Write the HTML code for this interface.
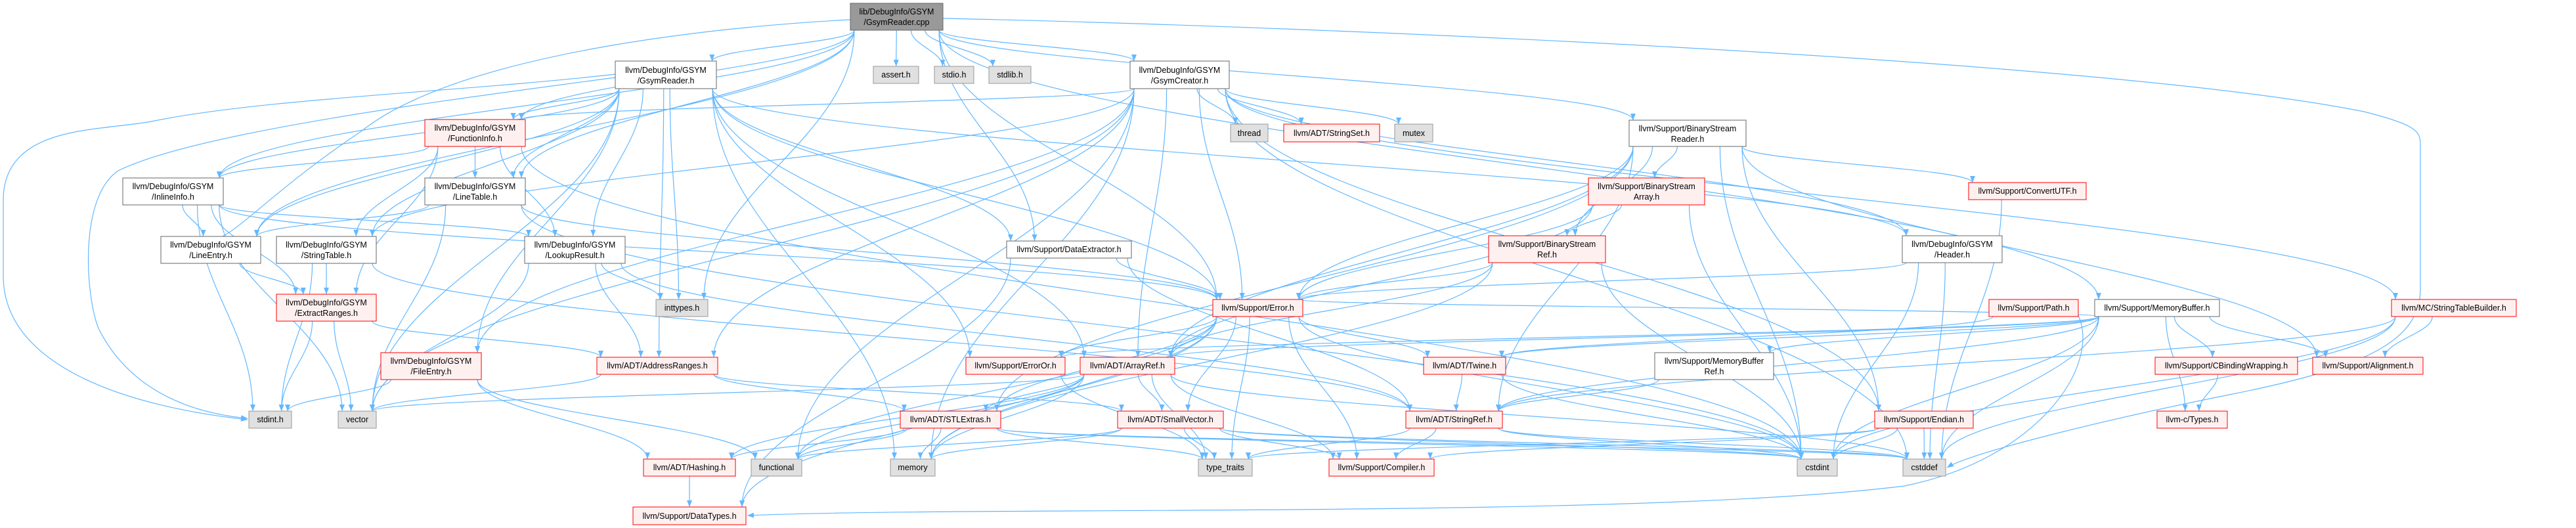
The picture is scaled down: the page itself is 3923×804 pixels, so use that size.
<!DOCTYPE html>
<html><head><meta charset="utf-8"><style>
html,body{margin:0;padding:0;background:#fff;}
svg{display:block;}
text{font-family:"Liberation Sans",sans-serif;font-size:12.5px;fill:#000;}
</style></head><body>
<svg id="g" width="3923" height="804" viewBox="0 0 3923 804" xmlns="http://www.w3.org/2000/svg">
<defs><marker id="a" viewBox="0 0 10 10" refX="10" refY="5" markerWidth="10" markerHeight="10" markerUnits="userSpaceOnUse" orient="auto"><path d="M0,1 L10,5 L0,9 z" fill="#63b8ff"/></marker></defs>
<g fill="none" stroke="#63b8ff" stroke-width="1.2">
<path d="M937,113 C700,140 400,150 230,185 C150,200 10,190 5,300 L5,420 C5,560 200,620 377,639" marker-end="url(#a)"/>
<path d="M937,118 C700,150 300,200 180,260 C120,300 130,450 150,500 C200,600 300,630 377,637" marker-end="url(#a)"/>
<path d="M1295,30 C1100,40 700,80 550,200 C400,300 340,380 320,360" />
<path d="M1436,28 C2000,40 3200,90 3600,170 C3680,190 3686,200 3686,220 L3686,440 C3686,520 3600,560 3400,600 C3200,640 3000,690 2965,712" marker-end="url(#a)"/>
<path d="M3165,480 C3200,560 3100,700 2900,740 C2500,790 1500,770 1138,785" marker-end="url(#a)"/>
</g>
<g id="edges" fill="none" stroke="#63b8ff" stroke-width="1.2"></g>
<g id="nodes">
<rect x="1295" y="5" width="141" height="41" fill="#999" stroke="#666"/><text x="1365.5" y="22" text-anchor="middle">lib/DebugInfo/GSYM</text><text x="1365.5" y="38" text-anchor="middle">/GsymReader.cpp</text>
<rect x="937" y="93" width="154" height="42" fill="#fff" stroke="#666"/><text x="1014" y="111" text-anchor="middle">llvm/DebugInfo/GSYM</text><text x="1014" y="127" text-anchor="middle">/GsymReader.h</text>
<rect x="1330" y="101" width="69" height="26" fill="#e0e0e0" stroke="#999"/><text x="1364.5" y="118" text-anchor="middle">assert.h</text>
<rect x="1423" y="101" width="60" height="26" fill="#e0e0e0" stroke="#999"/><text x="1453" y="118" text-anchor="middle">stdio.h</text>
<rect x="1506" y="101" width="64" height="26" fill="#e0e0e0" stroke="#999"/><text x="1538" y="118" text-anchor="middle">stdlib.h</text>
<rect x="1721" y="93" width="151" height="42" fill="#fff" stroke="#666"/><text x="1796.5" y="111" text-anchor="middle">llvm/DebugInfo/GSYM</text><text x="1796.5" y="127" text-anchor="middle">/GsymCreator.h</text>
<rect x="647" y="182" width="153" height="41" fill="#fff0f0" stroke="#f00"/><text x="723.5" y="199" text-anchor="middle">llvm/DebugInfo/GSYM</text><text x="723.5" y="215" text-anchor="middle">/FunctionInfo.h</text>
<rect x="1874" y="189" width="57" height="27" fill="#e0e0e0" stroke="#999"/><text x="1902.5" y="207" text-anchor="middle">thread</text>
<rect x="1955" y="189" width="146" height="27" fill="#fff0f0" stroke="#f00"/><text x="2028" y="207" text-anchor="middle">llvm/ADT/StringSet.h</text>
<rect x="2124" y="189" width="58" height="27" fill="#e0e0e0" stroke="#999"/><text x="2153" y="207" text-anchor="middle">mutex</text>
<rect x="2481" y="183" width="178" height="40" fill="#fff" stroke="#666"/><text x="2570" y="200" text-anchor="middle">llvm/Support/BinaryStream</text><text x="2570" y="216" text-anchor="middle">Reader.h</text>
<rect x="187" y="271" width="153" height="41" fill="#fff" stroke="#666"/><text x="263.5" y="288" text-anchor="middle">llvm/DebugInfo/GSYM</text><text x="263.5" y="304" text-anchor="middle">/InlineInfo.h</text>
<rect x="647" y="271" width="153" height="41" fill="#fff" stroke="#666"/><text x="723.5" y="288" text-anchor="middle">llvm/DebugInfo/GSYM</text><text x="723.5" y="304" text-anchor="middle">/LineTable.h</text>
<rect x="2419" y="271" width="177" height="41" fill="#fff0f0" stroke="#f00"/><text x="2507.5" y="288" text-anchor="middle">llvm/Support/BinaryStream</text><text x="2507.5" y="304" text-anchor="middle">Array.h</text>
<rect x="2998" y="278" width="179" height="26" fill="#fff0f0" stroke="#f00"/><text x="3087.5" y="295" text-anchor="middle">llvm/Support/ConvertUTF.h</text>
<rect x="245" y="360" width="152" height="41" fill="#fff" stroke="#666"/><text x="321" y="377" text-anchor="middle">llvm/DebugInfo/GSYM</text><text x="321" y="393" text-anchor="middle">/LineEntry.h</text>
<rect x="421" y="360" width="152" height="41" fill="#fff" stroke="#666"/><text x="497" y="377" text-anchor="middle">llvm/DebugInfo/GSYM</text><text x="497" y="393" text-anchor="middle">/StringTable.h</text>
<rect x="799" y="360" width="153" height="41" fill="#fff" stroke="#666"/><text x="875.5" y="377" text-anchor="middle">llvm/DebugInfo/GSYM</text><text x="875.5" y="393" text-anchor="middle">/LookupResult.h</text>
<rect x="1533" y="367" width="190" height="26" fill="#fff" stroke="#666"/><text x="1628" y="384" text-anchor="middle">llvm/Support/DataExtractor.h</text>
<rect x="2267" y="359" width="178" height="41" fill="#fff0f0" stroke="#f00"/><text x="2356" y="376" text-anchor="middle">llvm/Support/BinaryStream</text><text x="2356" y="392" text-anchor="middle">Ref.h</text>
<rect x="2897" y="359" width="152" height="41" fill="#fff" stroke="#666"/><text x="2973" y="376" text-anchor="middle">llvm/DebugInfo/GSYM</text><text x="2973" y="392" text-anchor="middle">/Header.h</text>
<rect x="421" y="448" width="152" height="41" fill="#fff0f0" stroke="#f00"/><text x="497" y="465" text-anchor="middle">llvm/DebugInfo/GSYM</text><text x="497" y="481" text-anchor="middle">/ExtractRanges.h</text>
<rect x="999" y="456" width="79" height="26" fill="#e0e0e0" stroke="#999"/><text x="1038.5" y="473" text-anchor="middle">inttypes.h</text>
<rect x="1847" y="456" width="137" height="26" fill="#fff0f0" stroke="#f00"/><text x="1915.5" y="473" text-anchor="middle">llvm/Support/Error.h</text>
<rect x="3029" y="456" width="136" height="26" fill="#fff0f0" stroke="#f00"/><text x="3097" y="473" text-anchor="middle">llvm/Support/Path.h</text>
<rect x="3190" y="456" width="190" height="26" fill="#fff" stroke="#666"/><text x="3285" y="473" text-anchor="middle">llvm/Support/MemoryBuffer.h</text>
<rect x="3642" y="456" width="190" height="26" fill="#fff0f0" stroke="#f00"/><text x="3737" y="473" text-anchor="middle">llvm/MC/StringTableBuilder.h</text>
<rect x="580" y="537" width="153" height="41" fill="#fff0f0" stroke="#f00"/><text x="656.5" y="554" text-anchor="middle">llvm/DebugInfo/GSYM</text><text x="656.5" y="570" text-anchor="middle">/FileEntry.h</text>
<rect x="909" y="544" width="184" height="26" fill="#fff0f0" stroke="#f00"/><text x="1001" y="561" text-anchor="middle">llvm/ADT/AddressRanges.h</text>
<rect x="1471" y="544" width="151" height="26" fill="#fff0f0" stroke="#f00"/><text x="1546.5" y="561" text-anchor="middle">llvm/Support/ErrorOr.h</text>
<rect x="1645" y="544" width="144" height="26" fill="#fff0f0" stroke="#f00"/><text x="1717" y="561" text-anchor="middle">llvm/ADT/ArrayRef.h</text>
<rect x="2168" y="544" width="125" height="26" fill="#fff0f0" stroke="#f00"/><text x="2230.5" y="561" text-anchor="middle">llvm/ADT/Twine.h</text>
<rect x="2520" y="537" width="181" height="41" fill="#fff" stroke="#666"/><text x="2610.5" y="554" text-anchor="middle">llvm/Support/MemoryBuffer</text><text x="2610.5" y="570" text-anchor="middle">Ref.h</text>
<rect x="3282" y="544" width="217" height="26" fill="#fff0f0" stroke="#f00"/><text x="3390.5" y="561" text-anchor="middle">llvm/Support/CBindingWrapping.h</text>
<rect x="3522" y="544" width="168" height="26" fill="#fff0f0" stroke="#f00"/><text x="3606" y="561" text-anchor="middle">llvm/Support/Alignment.h</text>
<rect x="379" y="626" width="65" height="26" fill="#e0e0e0" stroke="#999"/><text x="411.5" y="643" text-anchor="middle">stdint.h</text>
<rect x="515" y="626" width="58" height="26" fill="#e0e0e0" stroke="#999"/><text x="544" y="643" text-anchor="middle">vector</text>
<rect x="1371" y="626" width="153" height="26" fill="#fff0f0" stroke="#f00"/><text x="1447.5" y="643" text-anchor="middle">llvm/ADT/STLExtras.h</text>
<rect x="1702" y="626" width="161" height="26" fill="#fff0f0" stroke="#f00"/><text x="1782.5" y="643" text-anchor="middle">llvm/ADT/SmallVector.h</text>
<rect x="2141" y="626" width="147" height="26" fill="#fff0f0" stroke="#f00"/><text x="2214.5" y="643" text-anchor="middle">llvm/ADT/StringRef.h</text>
<rect x="2855" y="626" width="150" height="26" fill="#fff0f0" stroke="#f00"/><text x="2930" y="643" text-anchor="middle">llvm/Support/Endian.h</text>
<rect x="3285" y="626" width="107" height="26" fill="#fff0f0" stroke="#f00"/><text x="3338.5" y="643" text-anchor="middle">llvm-c/Types.h</text>
<rect x="980" y="699" width="140" height="26" fill="#fff0f0" stroke="#f00"/><text x="1050" y="716" text-anchor="middle">llvm/ADT/Hashing.h</text>
<rect x="1144" y="699" width="77" height="26" fill="#e0e0e0" stroke="#999"/><text x="1182.5" y="716" text-anchor="middle">functional</text>
<rect x="1356" y="699" width="68" height="26" fill="#e0e0e0" stroke="#999"/><text x="1390" y="716" text-anchor="middle">memory</text>
<rect x="1825" y="699" width="82" height="26" fill="#e0e0e0" stroke="#999"/><text x="1866" y="716" text-anchor="middle">type_traits</text>
<rect x="2024" y="699" width="160" height="26" fill="#fff0f0" stroke="#f00"/><text x="2104" y="716" text-anchor="middle">llvm/Support/Compiler.h</text>
<rect x="2737" y="699" width="61" height="26" fill="#e0e0e0" stroke="#999"/><text x="2767.5" y="716" text-anchor="middle">cstdint</text>
<rect x="2898" y="699" width="65" height="26" fill="#e0e0e0" stroke="#999"/><text x="2930.5" y="716" text-anchor="middle">cstddef</text>
<rect x="964" y="772" width="172" height="27" fill="#fff0f0" stroke="#f00"/><text x="1050" y="790" text-anchor="middle">llvm/Support/DataTypes.h</text>
</g>
</svg>
<script>
var N={root:[1295,5,1436,46],greader:[937,93,1091,135],assert:[1330,101,1399,127],stdio:[1423,101,1483,127],stdlib:[1506,101,1570,127],gcreator:[1721,93,1872,135],funcinfo:[647,182,800,223],thread:[1874,189,1931,216],stringset:[1955,189,2101,216],mutex:[2124,189,2182,216],bsreader:[2481,183,2659,223],inline:[187,271,340,312],linetable:[647,271,800,312],bsarray:[2419,271,2596,312],convutf:[2998,278,3177,304],lineentry:[245,360,397,401],strtable:[421,360,573,401],lookup:[799,360,952,401],dataext:[1533,367,1723,393],bsref:[2267,359,2445,400],header:[2897,359,3049,400],extract:[421,448,573,489],inttypes:[999,456,1078,482],error:[1847,456,1984,482],path:[3029,456,3165,482],membuf:[3190,456,3380,482],stb:[3642,456,3832,482],fileentry:[580,537,733,578],addr:[909,544,1093,570],erroror:[1471,544,1622,570],arrayref:[1645,544,1789,570],twine:[2168,544,2293,570],mbref:[2520,537,2701,578],cbind:[3282,544,3499,570],align:[3522,544,3690,570],stdint:[379,626,444,652],vector:[515,626,573,652],stl:[1371,626,1524,652],smallvec:[1702,626,1863,652],stringref:[2141,626,2288,652],endian:[2855,626,3005,652],ctypes:[3285,626,3392,652],hashing:[980,699,1120,725],functional:[1144,699,1221,725],memory:[1356,699,1424,725],typetraits:[1825,699,1907,725],compiler:[2024,699,2184,725],cstdint:[2737,699,2798,725],cstddef:[2898,699,2963,725],datatypes:[964,772,1136,799]};
var E={root:"greader assert stdio stdlib gcreator inline linetable dataext inttypes bsreader membuf lineentry funcinfo error",
greader:"funcinfo strtable lineentry vector inttypes fileentry erroror arrayref header dataext error memory addr lookup linetable inline",
gcreator:"funcinfo thread stringset mutex header fileentry error arrayref endian stb memory functional vector addr cstddef strtable",
funcinfo:"inline linetable lookup extract strtable cstdint",
inline:"lineentry extract lookup stdint vector error",
linetable:"lineentry error vector cstdint",
lineentry:"extract",strtable:"extract stringref stdint",
extract:"addr stdint vector",fileentry:"stdint hashing functional",
lookup:"addr stringref vector inttypes",addr:"smallvec stl vector",
dataext:"error stringref datatypes",
error:"compiler datatypes twine functional memory typetraits smallvec cstdint stl erroror",
erroror:"typetraits",arrayref:"hashing stl smallvec memory typetraits compiler vector cstddef functional",
stl:"functional memory typetraits cstddef cstdint hashing",smallvec:"memory typetraits compiler functional cstddef cstdint",
hashing:"datatypes",twine:"stringref cstdint",stringref:"compiler cstddef cstdint typetraits",
endian:"compiler cstdint cstddef typetraits",
bsreader:"bsarray bsref error arrayref stringref endian convutf align cstdint stl",
bsarray:"bsref error arrayref cstdint",bsref:"error arrayref cstdint memory",
header:"error cstddef cstdint",path:"twine",
membuf:"twine stringref arrayref mbref cbind align ctypes cstddef error erroror cstdint",
cbind:"ctypes",stb:"align stringref cstddef cstdint",convutf:"cstddef",mbref:"stringref"};
var g=document.getElementById('edges'),s="";
for(var k in E){var S=N[k];E[k].split(" ").forEach(function(t){var T=N[t];if(!T)return;
var scx=(S[0]+S[2])/2,tcx=(T[0]+T[2])/2,hw=(S[2]-S[0])/2-6,twd=(T[2]-T[0])/2-6;
var sx=scx+Math.max(-hw,Math.min(hw,(tcx-scx)*0.25)),sy=S[3];
var tx=tcx+Math.max(-twd,Math.min(twd,(scx-tcx)*0.2)),ty=T[1];
var dy=ty-sy;
var d="M"+sx+","+sy+" C"+sx+","+(sy+dy*0.4)+" "+tx+","+(ty-dy*0.4)+" "+tx+","+ty;
s+='<path d="'+d+'" marker-end="url(#a)"/>';});}
g.innerHTML=s;
</script>
</body></html>
